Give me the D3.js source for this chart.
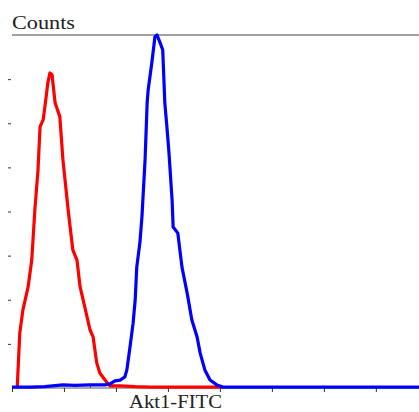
<!DOCTYPE html>
<html>
<head>
<meta charset="utf-8">
<script src="https://cdn.jsdelivr.net/npm/d3@7"></script>
<style>
html,body{margin:0;padding:0;background:#fff;}
svg{display:block;}
</style>
</head>
<body>
<svg id="chart" width="419" height="412"></svg>
<script>
// Data (x in decade-tick units, y in count units)
const redX = [0.10,0.15,0.21,0.31,0.38,0.44,0.50,0.54,0.60,0.65,0.69,0.73,0.77,0.83,0.92,0.98,1.08,1.17,1.25,1.31,1.40,1.50,1.56,1.63,1.69,1.79,1.88,2.08,2.37,2.65,4.04];
const redY = [0,1.25,1.77,2.29,2.90,4.04,4.94,5.92,6.08,6.53,6.92,7.14,7.10,6.46,6.15,5.17,4.04,3.13,2.90,2.29,1.84,1.32,1.16,0.57,0.34,0.18,0.05,0.05,0.03,0.02,0.02];
const blueX = [0,0.35,0.63,0.98,1.21,1.50,1.79,1.88,1.98,2.08,2.17,2.21,2.27,2.33,2.37,2.40,2.46,2.50,2.56,2.60,2.62,2.69,2.75,2.79,2.85,2.90,2.94,2.98,3.02,3.08,3.10,3.19,3.27,3.37,3.46,3.56,3.62,3.71,3.81,3.94,4.06,7.83];
const blueY = [0.02,0.02,0.03,0.07,0.06,0.07,0.07,0.09,0.16,0.18,0.25,0.41,0.93,1.47,2.00,2.74,3.29,3.88,5.17,6.46,6.76,7.37,7.96,8.00,7.82,7.66,6.46,5.92,5.33,4.26,3.65,3.51,2.74,2.15,1.54,1.16,0.79,0.41,0.18,0.07,0.02,0.02];
const xTicks = [0,1,2,3,4,5,6,7];
const xMinorTicks = [0.5,1.5,2.5,3.5,4.5,5.5,6.5,7.5];
const yTicks = [1,2,3,4,5,6,7];
const yLabel = "Counts";
const xLabel = "Akt1-FITC";

const svg = d3.select("#chart");
const x = d3.scaleLinear().domain([0, 7.83]).range([12, 419]);
const y = d3.scaleLinear().domain([0, 8]).range([388, 35]);

// top line
svg.append("line").attr("x1", 12).attr("x2", 419).attr("y1", y(8)).attr("y2", y(8))
  .attr("stroke", "#808080").attr("stroke-width", 1.6);

// y ticks
const yAxis = d3.axisLeft(y).tickValues(yTicks).tickSize(3).tickFormat("");
const gy = svg.append("g").attr("transform", "translate(11,0)").call(yAxis);
gy.select(".domain").remove();
gy.selectAll(".tick line").attr("stroke", "#333");

// x ticks
const xAxis = d3.axisBottom(x).tickValues(xTicks).tickSize(4).tickFormat("");
const gx = svg.append("g").attr("transform", "translate(0," + y(0) + ")").call(xAxis);
gx.select(".domain").attr("stroke", "#555").attr("d", "M12,0H419");
gx.selectAll(".tick line").attr("stroke", "#333");
const xAxisMinor = d3.axisTop(x).tickValues(xMinorTicks).tickSize(2).tickFormat("");
const gxm = svg.append("g").attr("transform", "translate(0," + y(0) + ")").call(xAxisMinor);
gxm.select(".domain").remove();
gxm.selectAll(".tick line").attr("stroke", "#555");

const line = d3.line().x(d => x(d[0])).y(d => y(d[1]));
svg.append("path").datum(d3.zip(redX, redY)).attr("d", line)
  .attr("fill", "none").attr("stroke", "#ff0000").attr("stroke-width", 3.2).attr("stroke-linejoin", "round");
svg.append("path").datum(d3.zip(blueX, blueY)).attr("d", line)
  .attr("fill", "none").attr("stroke", "#0000ff").attr("stroke-width", 3.2).attr("stroke-linejoin", "round");

svg.append("text").attr("x", 12).attr("y", 29).text(yLabel)
  .attr("font-family", "Liberation Serif").attr("font-size", 19)
  .attr("textLength", 63).attr("lengthAdjust", "spacingAndGlyphs").attr("fill", "#222");
svg.append("text").attr("x", 129).attr("y", 408).text(xLabel)
  .attr("font-family", "Liberation Serif").attr("font-size", 18)
  .attr("textLength", 93).attr("lengthAdjust", "spacingAndGlyphs").attr("fill", "#222");
</script>
</body>
</html>
